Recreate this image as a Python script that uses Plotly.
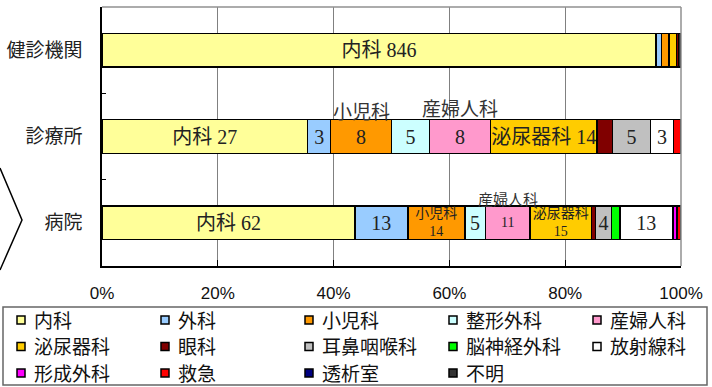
import plotly.graph_objects as go

# ── DATA ────────────────────────────────────────────────────────────────────
CATEGORIES = ["健診機関", "診療所", "病院"]
DEPARTMENTS = ["内科", "外科", "小児科", "整形外科", "産婦人科", "泌尿器科", "眼科",
               "耳鼻咽喉科", "脳神経外科", "放射線科", "形成外科", "救急", "透析室", "不明"]

KENSHIN = [846, 8, 12, 0, 0, 11, 3, 0, 0, 0, 0, 0, 0, 4]
SHINRYOJO = [27, 3, 8, 5, 8, 14, 2, 5, 0, 3, 0, 1, 0, 0]
BYOIN = [62, 13, 14, 5, 11, 15, 1, 4, 2, 13, 1, 1, 0, 0]
VALUES = {"健診機関": KENSHIN, "診療所": SHINRYOJO, "病院": BYOIN}

TICK_VALUES = [0, 20, 40, 60, 80, 100]
TICK_LABELS = ["0%", "20%", "40%", "60%", "80%", "100%"]

COLORS = ["#FFFF99", "#99CCFF", "#FF9900", "#CCFFFF", "#FF99CC", "#FFCC00", "#800000",
          "#C0C0C0", "#00FF00", "#FFFFFF", "#FF00FF", "#FF0000", "#000080", "#333333"]

# which segments carry a label inside the bar, and how it is written
LABEL_STYLE = {
    "健診機関": {"内科": "name value"},
    "診療所": {"内科": "name value", "外科": "value", "小児科": "value", "整形外科": "value",
             "産婦人科": "value", "泌尿器科": "name value", "耳鼻咽喉科": "value",
             "放射線科": "value"},
    "病院": {"内科": "name value", "外科": "value", "小児科": "name<br>value",
            "整形外科": "value", "産婦人科": "value", "泌尿器科": "name<br>value",
            "耳鼻咽喉科": "value", "放射線科": "value"},
}
SMALL_LABELS = {("病院", "小児科"), ("病院", "産婦人科"), ("病院", "泌尿器科")}
# department names written above a bar: (category, department, shift px, size)
ABOVE_LABELS = [("診療所", "小児科", 26, 19), ("診療所", "産婦人科", 29, 19),
                ("病院", "産婦人科", 24, 15)]

LABEL_FONT = "Liberation Serif, Noto Sans CJK JP"
GOTHIC = "Noto Sans CJK JP"

# ── LAYOUT GEOMETRY ─────────────────────────────────────────────────────────
W, H = 712, 387
ML, MR, MT, MB = 102, 31, 7, 121
PW, PH = W - ML - MR, H - MT - MB


def px2x(px):
    return (px - ML) / PW


def px2y(py):
    return (H - MB - py) / PH


def fmt_label(style, name, v):
    return style.replace("name", name).replace("value", str(v))


fig = go.Figure()
for i, dep in enumerate(DEPARTMENTS):
    xs = [VALUES[c][i] for c in CATEGORIES]
    texts, sizes = [], []
    for c in CATEGORIES:
        style = LABEL_STYLE[c].get(dep)
        texts.append(fmt_label(style, dep, VALUES[c][i]) if style else "")
        sizes.append(14 if (c, dep) in SMALL_LABELS else 20)
    fig.add_trace(go.Bar(
        y=CATEGORIES, x=xs, orientation="h", name=dep,
        marker=dict(color=COLORS[i], line=dict(color="black", width=1.5)),
        text=texts, textposition="inside", insidetextanchor="middle",
        textangle=0, constraintext="none",
        textfont=dict(family=LABEL_FONT, size=sizes, color="#222"),
        showlegend=False, hoverinfo="skip",
    ))

# labels above bars, placed at segment centres (percent of row total)
for cat, dep, shift, size in ABOVE_LABELS:
    vals = VALUES[cat]
    k = DEPARTMENTS.index(dep)
    total = sum(vals)
    mid = (sum(vals[:k]) + vals[k] / 2) / total * 100
    fig.add_annotation(x=mid, y=cat, xref="x", yref="y", text=dep, showarrow=False,
                       yshift=shift, font=dict(family=GOTHIC, size=size, color="#333"))

shapes = []
# top and right frame lines (grey)
shapes.append(dict(type="line", xref="paper", yref="paper", x0=0, x1=1, y0=1, y1=1,
                   line=dict(color="#909090", width=1.5)))
shapes.append(dict(type="line", xref="paper", yref="paper", x0=1, x1=1, y0=0, y1=1,
                   line=dict(color="#909090", width=1.5)))
# chevron on the left
shapes.append(dict(type="path", xref="paper", yref="paper",
                   path=f"M {px2x(0)} {px2y(168)} L {px2x(22)} {px2y(220)} L {px2x(0)} {px2y(270)}",
                   line=dict(color="black", width=1.5)))

# manual legend: 5 columns x 3 rows
shapes.append(dict(type="rect", xref="paper", yref="paper",
                   x0=px2x(3), x1=px2x(707), y0=px2y(307), y1=px2y(385),
                   line=dict(color="#666", width=1.5), fillcolor="rgba(0,0,0,0)"))
for i, dep in enumerate(DEPARTMENTS):
    cx, cy = 21 + 144 * (i % 5), 320 + 26.5 * (i // 5)
    shapes.append(dict(type="rect", xref="paper", yref="paper",
                       x0=px2x(cx - 4), x1=px2x(cx + 4),
                       y0=px2y(cy - 4), y1=px2y(cy + 4),
                       fillcolor=COLORS[i], line=dict(color="black", width=1.5)))
    fig.add_annotation(x=px2x(cx + 11), y=px2y(cy), xref="paper", yref="paper",
                       text=dep, showarrow=False, xanchor="left", yanchor="middle",
                       yshift=1, font=dict(family=GOTHIC, size=19, color="#111"))

fig.update_layout(
    barmode="stack", barnorm="percent", bargap=0.61,
    width=W, height=H,
    margin=dict(l=ML, r=MR, t=MT, b=MB, autoexpand=False),
    plot_bgcolor="white", paper_bgcolor="white",
    shapes=shapes,
    showlegend=False,
)
fig.update_xaxes(
    range=[0, 100], tickvals=TICK_VALUES, ticktext=TICK_LABELS, automargin=False,
    showgrid=True, gridcolor="#808080", gridwidth=1, zeroline=False,
    showline=True, linecolor="black", linewidth=1.5,
    ticks="inside", ticklen=6, tickcolor="black", ticklabelstandoff=11,
    tickfont=dict(family="Liberation Sans Narrow, Liberation Sans", size=17, color="#111"),
)
fig.update_yaxes(
    type="category", categoryorder="array", categoryarray=CATEGORIES,
    autorange="reversed", showgrid=False, automargin=False,
    showline=True, linecolor="black", linewidth=1.5,
    ticks="inside", tickson="boundaries", ticklen=4, tickcolor="black",
    ticklabelstandoff=14,
    tickfont=dict(family=GOTHIC, size=19, color="#222"),
)

# page body has a default 8px margin; remove it so the figure fills the window
fig.write_html("out.html", config={"displayModeBar": False},
               post_script="document.body.style.margin = '0';")
